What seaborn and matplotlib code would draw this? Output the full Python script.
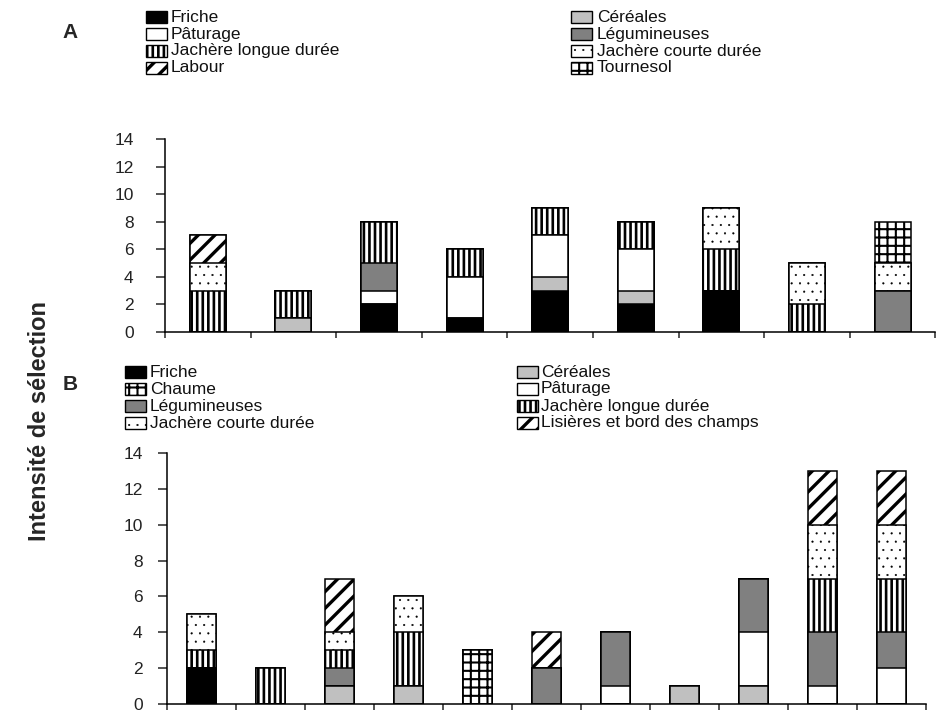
import numpy as np
import pandas as pd
import matplotlib
matplotlib.use("Agg")
import matplotlib.pyplot as plt
import seaborn as sns
from matplotlib.patches import Rectangle

# ---------------- data ----------------
sites_a = ["A1", "A2", "A3", "A4", "A5", "A6", "A7", "A8", "A9"]
friche_a = [0, 0, 2, 1, 3, 2, 3, 0, 0]
cereales_a = [0, 1, 0, 0, 1, 1, 0, 0, 0]
paturage_a = [0, 0, 1, 3, 3, 3, 0, 0, 0]
legumineuses_a = [0, 0, 2, 0, 0, 0, 0, 0, 3]
jachere_longue_a = [3, 2, 3, 2, 2, 2, 3, 2, 0]
jachere_courte_a = [2, 0, 0, 0, 0, 0, 3, 3, 2]
labour_a = [2, 0, 0, 0, 0, 0, 0, 0, 0]
tournesol_a = [0, 0, 0, 0, 0, 0, 0, 0, 3]

sites_b = ["B1", "B2", "B3", "B4", "B5", "B6", "B7", "B8", "B9", "B10", "B11"]
friche_b = [2, 0, 0, 0, 0, 0, 0, 0, 0, 0, 0]
cereales_b = [0, 0, 1, 1, 0, 0, 0, 1, 1, 0, 0]
chaume_b = [0, 0, 0, 0, 3, 0, 0, 0, 0, 0, 0]
paturage_b = [0, 0, 0, 0, 0, 0, 1, 0, 3, 1, 2]
legumineuses_b = [0, 0, 1, 0, 0, 2, 3, 0, 3, 3, 2]
jachere_longue_b = [1, 2, 1, 3, 0, 0, 0, 0, 0, 3, 3]
jachere_courte_b = [2, 0, 1, 2, 0, 0, 0, 0, 0, 3, 3]
lisieres_b = [0, 0, 3, 0, 0, 2, 0, 0, 0, 3, 3]

# stacking order (bottom -> top), same as the legend read row by row
layers_a = [
    ("Friche", friche_a), ("Céréales", cereales_a),
    ("Pâturage", paturage_a), ("Légumineuses", legumineuses_a),
    ("Jachère longue durée", jachere_longue_a), ("Jachère courte durée", jachere_courte_a),
    ("Labour", labour_a), ("Tournesol", tournesol_a),
]
layers_b = [
    ("Friche", friche_b), ("Céréales", cereales_b),
    ("Chaume", chaume_b), ("Pâturage", paturage_b),
    ("Légumineuses", legumineuses_b), ("Jachère longue durée", jachere_longue_b),
    ("Jachère courte durée", jachere_courte_b), ("Lisières et bord des champs", lisieres_b),
]

# fill colour, hatch and hatch line width for each land-use class
styles = {
    "Friche": ("#000000", None, 1.0),
    "Céréales": ("#c0c0c0", None, 1.0),
    "Pâturage": ("#ffffff", None, 1.0),
    "Légumineuses": ("#808080", None, 1.0),
    "Jachère longue durée": ("#ffffff", "|||", 1.9),
    "Jachère courte durée": ("#ffffff", "..", 0.3),
    "Labour": ("#ffffff", "//", 2.4),
    "Lisières et bord des champs": ("#ffffff", "//", 2.4),
    "Tournesol": ("#ffffff", "++", 1.5),
    "Chaume": ("#ffffff", "++", 1.5),
}

# ---------------- style ----------------
sns.set_theme(style="ticks")
plt.rcParams["font.family"] = ["Liberation Sans", "DejaVu Sans"]
plt.rcParams["hatch.color"] = "black"

W, H = 936, 712
fig = plt.figure(figsize=(W / 100, H / 100), dpi=100)
fig.patch.set_facecolor("white")


def px_axes(left, top, right, bottom):
    return fig.add_axes([left / W, 1 - bottom / H, (right - left) / W, (bottom - top) / H])


def set_hatch_lw(patches, lw):
    for p in patches:
        if hasattr(p, "set_hatch_linewidth"):
            p.set_hatch_linewidth(lw)


def stacked(ax, sites, layers, width, label_pad):
    df = pd.DataFrame({"site": sites})
    cum = np.cumsum(np.array([vals for _, vals in layers], dtype=float), axis=0)
    # tallest cumulative layer first, lower layers drawn over it
    for (name, _), top in reversed(list(zip(layers, cum))):
        fc, hatch, hlw = styles[name]
        df["value"] = top
        n_before = len(ax.patches)
        with plt.rc_context({"hatch.linewidth": hlw}):
            sns.barplot(data=df, x="site", y="value", order=sites, color=fc,
                        saturation=1, width=width, errorbar=None, hatch=hatch,
                        edgecolor="black", linewidth=1.1, ax=ax)
        set_hatch_lw(ax.patches[n_before:], hlw)
    n = len(sites)
    ax.set_xlim(-0.5, n - 0.5)
    ax.set_ylim(0, 14)
    ax.set_yticks(np.arange(0, 15, 2))
    ax.set_xticks(np.arange(-0.5, n, 1.0))
    ax.set_xticklabels([])
    ax.set_xlabel("")
    ax.set_ylabel("")
    ax.tick_params(axis="y", direction="out", length=6.5, width=1.1,
                   labelsize=12.5, labelcolor="#222222", pad=label_pad)
    ax.tick_params(axis="x", direction="out", length=4.5, width=1.1)
    for side in ("top", "right"):
        ax.spines[side].set_visible(False)
    for side in ("left", "bottom"):
        ax.spines[side].set_linewidth(1.1)
        ax.spines[side].set_color("black")
    ax.patch.set_alpha(0)


def legend_column(names, x_marker, x_text, ys, mw=21, mh=12):
    for name, y in zip(names, ys):
        fc, hatch, hlw = styles[name]
        with plt.rc_context({"hatch.linewidth": hlw}):
            rect = Rectangle((x_marker / W, 1 - (y + mh / 2) / H), mw / W, mh / H,
                             transform=fig.transFigure, facecolor=fc,
                             edgecolor="black", hatch=hatch, linewidth=1.0)
        set_hatch_lw([rect], hlw)
        fig.add_artist(rect)
        fig.text(x_text / W, 1 - y / H, name, ha="left", va="center",
                 fontsize=12.5, color="#111111")


ax_a = px_axes(165, 139, 935.4, 332)
stacked(ax_a, sites_a, layers_a, width=0.42, label_pad=16)

ax_b = px_axes(167, 453, 926, 704)
stacked(ax_b, sites_b, layers_b, width=0.41, label_pad=11)

# legends (two columns per panel)
rows_a = [17, 34, 51, 68]
legend_column(["Friche", "Pâturage", "Jachère longue durée", "Labour"], 146, 171, rows_a)
legend_column(["Céréales", "Légumineuses", "Jachère courte durée", "Tournesol"], 571, 597, rows_a)

rows_b = [372, 389, 406, 423]
legend_column(["Friche", "Chaume", "Légumineuses", "Jachère courte durée"], 125, 150, rows_b)
legend_column(["Céréales", "Pâturage", "Jachère longue durée", "Lisières et bord des champs"], 517, 541, rows_b)

# panel letters and shared axis title
fig.text(70 / W, 1 - 33 / H, "A", ha="center", va="center", fontsize=15, fontweight="bold")
fig.text(70 / W, 1 - 385 / H, "B", ha="center", va="center", fontsize=15, fontweight="bold")
fig.text(40 / W, 1 - 421 / H, "Intensité de sélection", rotation=90, ha="center",
         va="center", fontsize=17, fontweight="bold")

fig.savefig("out.png", dpi=100, facecolor="white")
